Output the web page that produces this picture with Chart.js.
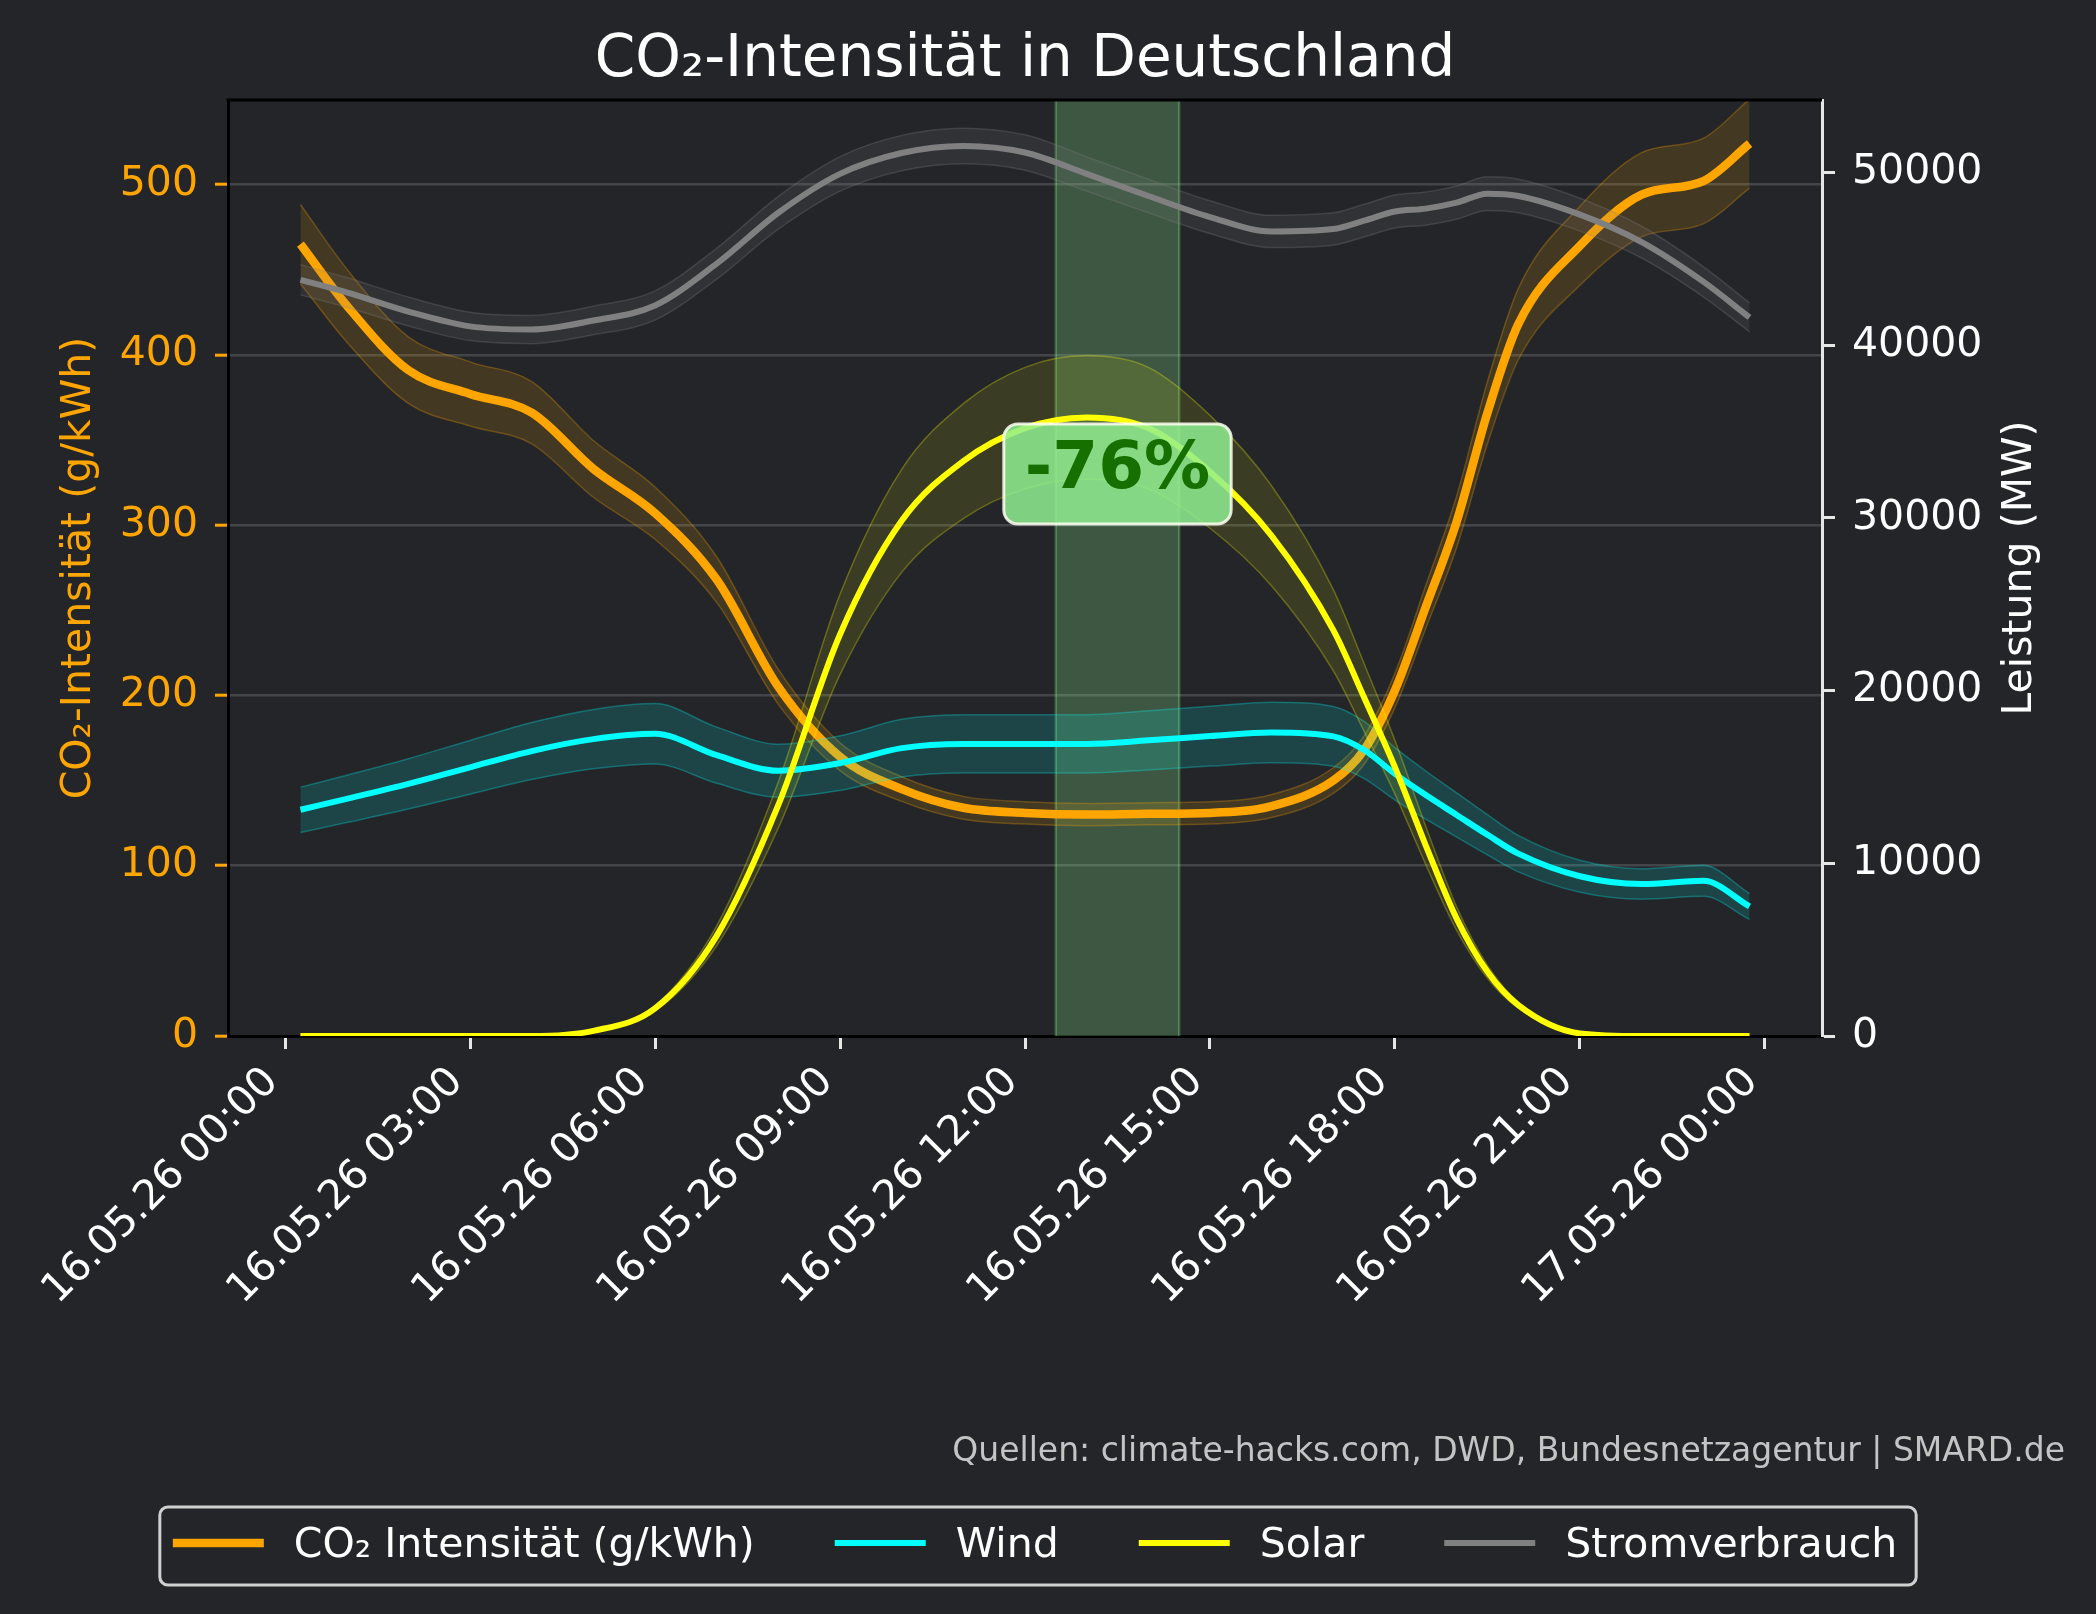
<!DOCTYPE html>
<html>
<head>
<meta charset="utf-8">
<title>CO2-Intensität in Deutschland</title>
<script src="https://cdn.jsdelivr.net/npm/chart.js@4.4.1/dist/chart.umd.min.js"></script>
<style>
  html, body { margin: 0; padding: 0; background: #232529; }
  #wrap { width: 2096px; height: 1614px; }
</style>
</head>
<body>
<div id="wrap"><canvas id="co2Chart" width="2096" height="1614"></canvas></div>
<script>
// hours since 16.05.26 00:00
const hours  = [0.25, 1, 2, 3, 4, 5, 6, 7, 8, 9, 10, 11, 12, 13, 14, 15, 16, 17, 17.5, 18, 18.5, 19, 19.5, 20, 21, 22, 23, 23.75];
const co2    = [465, 429, 391, 377, 366, 333, 307, 268, 205, 164, 145, 134, 131, 130, 130.5, 131, 135, 150, 168, 203, 252, 302, 366, 418, 464, 494, 502, 524];
const wind   = [13100, 13730, 14600, 15560, 16500, 17190, 17500, 16260, 15360, 15800, 16670, 16915, 16915, 16915, 17120, 17365, 17573, 17350, 16560, 15180, 13950, 12800, 11650, 10560, 9250, 8800, 8985, 7500];
const solar  = [0, 0, 0, 0, 0, 300, 1600, 5800, 13380, 23250, 29830, 33290, 35200, 35820, 35200, 32670, 28960, 23500, 19600, 15560, 11030, 6800, 3715, 1790, 150, 0, 0, 0];
const demand = [43790, 43060, 41950, 41090, 40910, 41430, 42300, 44720, 47670, 49920, 51130, 51540, 51160, 49920, 48640, 47420, 46590, 46730, 47215, 47740, 47910, 48260, 48775, 48640, 47560, 45970, 43680, 41610];

// uncertainty bands (share of the value)
const bandShare = { co2: 0.05, wind: 0.10, solar: 0.10, demand: 0.02 };

const xTicks = [0, 3, 6, 9, 12, 15, 18, 21, 24];
const xTickLabels = ['16.05.26 00:00', '16.05.26 03:00', '16.05.26 06:00', '16.05.26 09:00', '16.05.26 12:00',
                     '16.05.26 15:00', '16.05.26 18:00', '16.05.26 21:00', '17.05.26 00:00'];
const co2Ticks = [0, 100, 200, 300, 400, 500];
const powerTicks = [0, 10000, 20000, 30000, 40000, 50000];

const solarWindow = [12.5, 14.5];
const reductionText = '-76%';
const reductionAt = [13.5, 330];

const BG = '#232529';
const FONT = '"DejaVu Sans", "Liberation Sans", sans-serif';

Chart.defaults.font.family = FONT;

const datasets = [];
function addSeries(name, values, color, rgb, width, share, fillAlpha, axis, bandOrder, lineOrder) {
  const pts = k => hours.map((h, i) => ({ x: h, y: values[i] * k }));
  datasets.push({
    label: name + ' (min)', data: pts(1 - share), yAxisID: axis,
    borderColor: `rgba(${rgb},0.28)`, borderWidth: 1.5, pointRadius: 0,
    fill: false, order: bandOrder, cubicInterpolationMode: 'monotone'
  });
  datasets.push({
    label: name + ' (max)', data: pts(1 + share), yAxisID: axis,
    borderColor: `rgba(${rgb},0.28)`, borderWidth: 1.5, pointRadius: 0,
    backgroundColor: `rgba(${rgb},${fillAlpha})`,
    fill: '-1', order: bandOrder, cubicInterpolationMode: 'monotone'
  });
  datasets.push({
    label: name, data: pts(1), yAxisID: axis, inLegend: true,
    borderColor: color, borderWidth: width, pointRadius: 0,
    fill: false, order: lineOrder, cubicInterpolationMode: 'monotone'
  });
}

addSeries('CO₂ Intensität (g/kWh)', co2, '#FFA500', '255,165,0', 8.5, bandShare.co2, 0.15, 'y', 10, 9);
addSeries('Wind', wind, '#00FFFF', '0,255,255', 6, bandShare.wind, 0.15, 'y1', 8, 5);
addSeries('Solar', solar, '#FFFF00', '255,255,0', 6, bandShare.solar, 0.11, 'y1', 7, 4);
addSeries('Stromverbrauch', demand, '#808080', '128,128,128', 6, bandShare.demand, 0.15, 'y1', 6, 3);

const decorations = {
  id: 'decorations',
  beforeDraw(chart) {
    const ctx = chart.ctx;
    ctx.save();
    ctx.fillStyle = BG;
    ctx.fillRect(0, 0, chart.width, chart.height);
    ctx.restore();
  },
  beforeDatasetsDraw(chart) {
    const { ctx, chartArea: a, scales: { x } } = chart;
    const x0 = x.getPixelForValue(solarWindow[0]);
    const x1 = x.getPixelForValue(solarWindow[1]);
    ctx.save();
    ctx.fillStyle = 'rgba(144,238,144,0.25)';
    ctx.fillRect(x0, a.top, x1 - x0, a.bottom - a.top);
    ctx.strokeStyle = 'rgba(144,238,144,0.3)';
    ctx.lineWidth = 2.5;
    ctx.beginPath();
    ctx.moveTo(x0, a.top); ctx.lineTo(x0, a.bottom);
    ctx.moveTo(x1, a.top); ctx.lineTo(x1, a.bottom);
    ctx.stroke();
    ctx.restore();
  },
  afterDatasetsDraw(chart) {
    const { ctx, scales: { x, y } } = chart;
    const cx = x.getPixelForValue(reductionAt[0]);
    const cy = y.getPixelForValue(reductionAt[1]);
    ctx.save();
    ctx.font = 'bold 66px ' + FONT;
    const w = ctx.measureText(reductionText).width + 42;
    const h = 100;
    ctx.beginPath();
    ctx.roundRect(cx - w / 2, cy - h / 2, w, h, 14);
    ctx.fillStyle = 'rgba(144,238,144,0.85)';
    ctx.fill();
    ctx.strokeStyle = 'rgba(255,255,245,0.85)';
    ctx.lineWidth = 3;
    ctx.stroke();
    ctx.fillStyle = '#167000';
    ctx.textAlign = 'center';
    ctx.textBaseline = 'middle';
    ctx.fillText(reductionText, cx, cy - 3);
    ctx.restore();
  },
  afterDraw(chart) {
    const { ctx, chartArea: a } = chart;
    ctx.save();
    // top spine
    ctx.strokeStyle = '#000';
    ctx.lineWidth = 3;
    ctx.beginPath();
    ctx.moveTo(a.left - 1.5, a.top);
    ctx.lineTo(a.right, a.top);
    ctx.stroke();

    // title
    ctx.fillStyle = '#ffffff';
    ctx.font = '58px ' + FONT;
    ctx.textAlign = 'center';
    ctx.textBaseline = 'alphabetic';
    ctx.fillText('CO₂-Intensität in Deutschland', (a.left + a.right) / 2, 76);

    // right axis title
    ctx.save();
    ctx.translate(2020, (a.top + a.bottom) / 2);
    ctx.rotate(-Math.PI / 2);
    ctx.font = '41px ' + FONT;
    ctx.textBaseline = 'middle';
    ctx.fillText('Leistung (MW)', 0, 0);
    ctx.restore();

    // sources
    ctx.font = '33px ' + FONT;
    ctx.fillStyle = '#c4c4c4';
    ctx.textAlign = 'right';
    ctx.fillText('Quellen: climate-hacks.com, DWD, Bundesnetzagentur | SMARD.de', 2065, 1461);

    // legend
    const items = chart.data.datasets.filter(d => d.inLegend);
    ctx.font = '41px ' + FONT;
    ctx.textAlign = 'left';
    ctx.textBaseline = 'middle';
    const handle = 91, gapText = 30, gapItem = 80;
    const widths = items.map(d => ctx.measureText(d.label).width);
    const total = widths.reduce((s, w) => s + handle + gapText + w, 0) + gapItem * (items.length - 1);
    let lx = 1035 - total / 2;
    const ly = 1546;
    ctx.beginPath();
    ctx.roundRect(lx - 13, 1507, total + 32, 78, 8);
    ctx.strokeStyle = '#d0d0d0';
    ctx.lineWidth = 3;
    ctx.stroke();
    items.forEach((d, i) => {
      ctx.strokeStyle = d.borderColor;
      ctx.lineWidth = d.borderWidth;
      ctx.beginPath();
      ctx.moveTo(lx, ly - 3);
      ctx.lineTo(lx + handle, ly - 3);
      ctx.stroke();
      ctx.fillStyle = '#ffffff';
      ctx.fillText(d.label, lx + handle + gapText, ly);
      lx += handle + gapText + widths[i] + gapItem;
    });
    ctx.restore();
  }
};

new Chart(document.getElementById('co2Chart'), {
  type: 'line',
  data: { datasets },
  options: {
    responsive: false,
    devicePixelRatio: 1,
    animation: false,
    events: [],
    layout: { padding: { top: 100, bottom: 0, left: 0, right: 0 } },
    plugins: { legend: { display: false }, tooltip: { enabled: false }, filler: { drawTime: 'beforeDatasetDraw' } },
    scales: {
      x: {
        type: 'linear', min: -0.925, max: 24.925,
        afterBuildTicks: s => { s.ticks = xTicks.map(v => ({ value: v })); },
        afterFit: s => { s.height = 1614 - 1036; },
        ticks: {
          color: '#ffffff', font: { size: 41 }, autoSkip: false,
          minRotation: 45, maxRotation: 45, padding: 9, labelOffset: -13,
          callback: v => xTickLabels[xTicks.indexOf(v)]
        },
        grid: { drawOnChartArea: false, drawTicks: true, tickLength: 13, tickWidth: 3, tickColor: '#e6e6e6' },
        border: { display: true, color: '#000', width: 3 }
      },
      y: {
        position: 'left', min: 0, max: 549.6,
        afterBuildTicks: s => { s.ticks = co2Ticks.map(v => ({ value: v })); },
        afterFit: s => { s.width = 228; },
        ticks: { color: '#FFA500', font: { size: 41 }, padding: 17, callback: v => String(v) },
        grid: { color: 'rgba(255,255,255,0.15)', lineWidth: 2.4, drawTicks: true, tickLength: 13, tickWidth: 3, tickColor: '#FFA500' },
        border: { display: true, color: '#000', width: 3 },
        title: { display: true, text: 'CO₂-Intensität (g/kWh)', color: '#FFA500', font: { size: 41 }, padding: { top: 55, bottom: 0 } }
      },
      y1: {
        position: 'right', min: 0, max: 54200,
        afterBuildTicks: s => { s.ticks = powerTicks.map(v => ({ value: v })); },
        afterFit: s => { s.width = 274; },
        ticks: { color: '#ffffff', font: { size: 41 }, padding: 17, callback: v => String(v) },
        grid: { drawOnChartArea: false, drawTicks: true, tickLength: 13, tickWidth: 3, tickColor: '#e6e6e6' },
        border: { display: true, color: '#e6e6e6', width: 3 }
      }
    }
  },
  plugins: [decorations]
});
</script>
</body>
</html>
